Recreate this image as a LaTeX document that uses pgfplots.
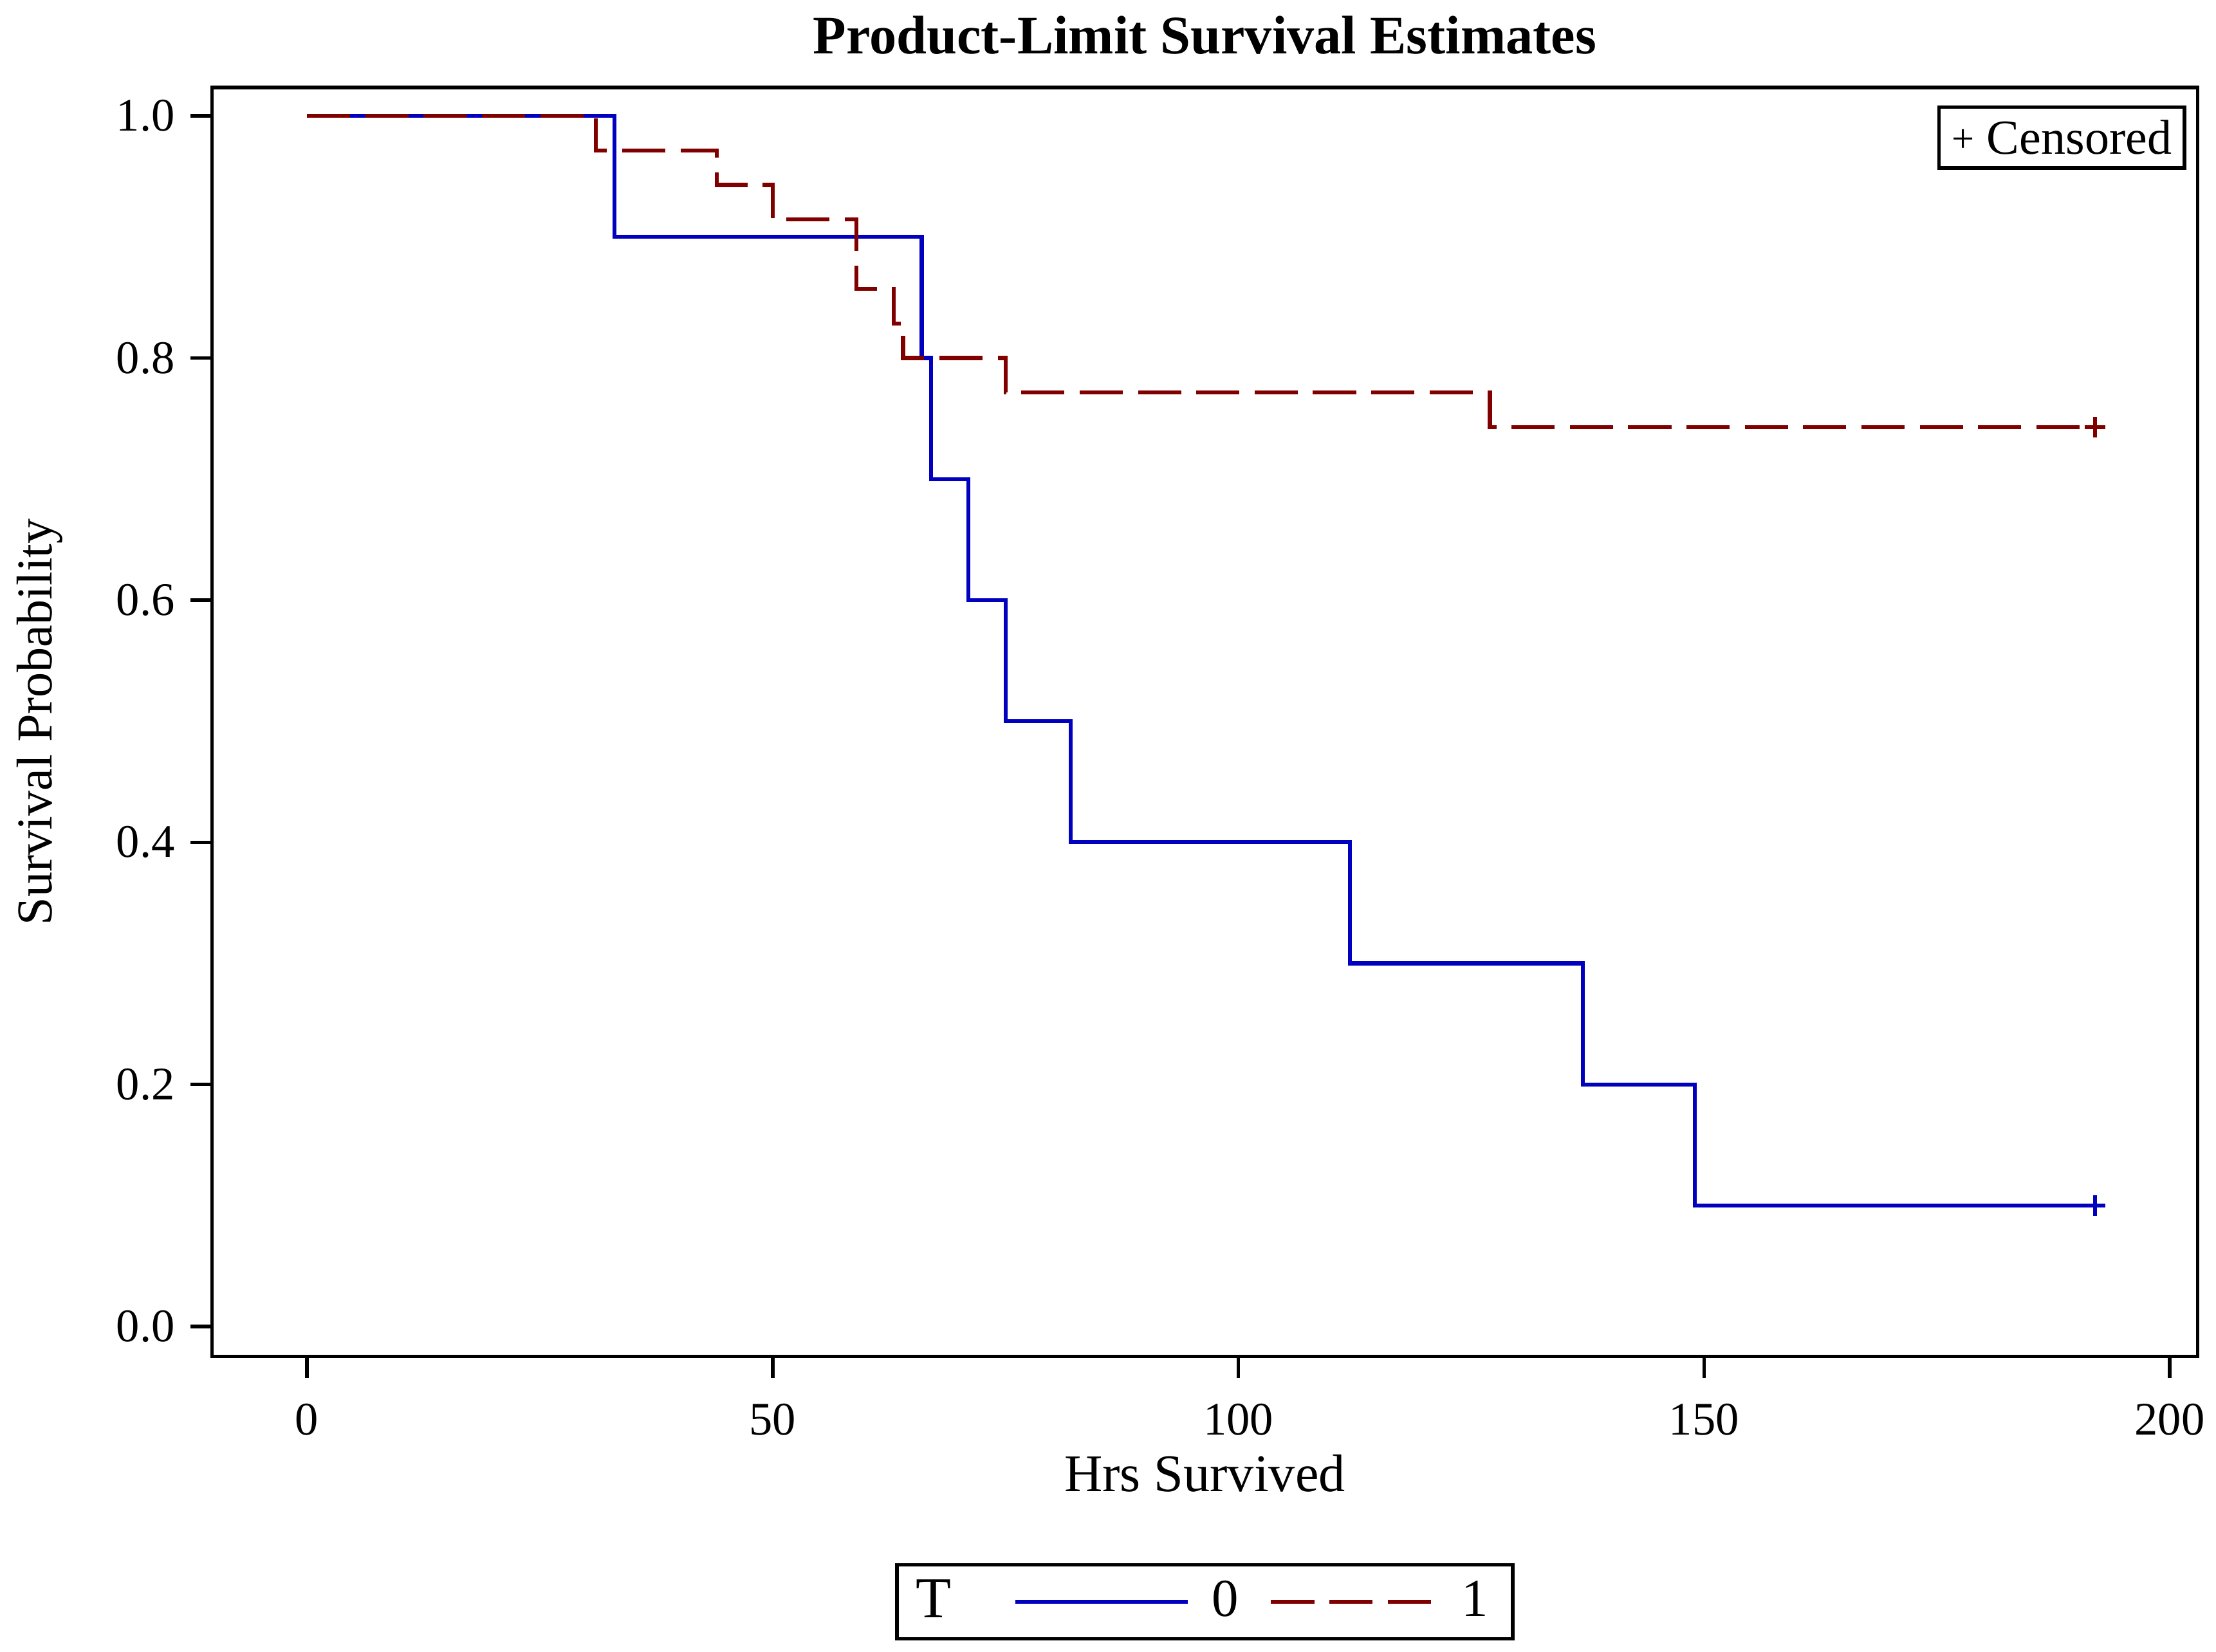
\documentclass[border=0pt]{standalone}
\usepackage{fontspec}
\setmainfont{Liberation Serif}
\usepackage{pgfplots}
\pgfplotsset{compat=1.18}
\definecolor{sasblue}{RGB}{0,0,190}
\definecolor{sasred}{RGB}{128,0,0}

\begin{document}
\begin{tikzpicture}
\begin{axis}[
  name=ax,
  scale only axis,
  width=15.68cm, height=10.02cm,
  xmin=-10.2, xmax=203,
  ymin=-0.0245, ymax=1.0233,
  xtick={0,50,100,150,200},
  ytick={0,0.2,0.4,0.6,0.8,1.0},
  yticklabel style={/pgf/number format/fixed, /pgf/number format/fixed zerofill,
    /pgf/number format/precision=1},
  /pgf/number format/assume math mode=true,
  tick align=outside,
  tick pos=left,
  major tick length=0.17cm,
  every tick/.style={black, line width=0.8pt},
  axis line style={line width=0.8pt},
  tick label style={font=\fontsize{10.5}{12}\selectfont},
  xticklabel style={yshift=-0.08cm},
  xlabel={Hrs Survived},
  ylabel={Survival Probability},
  xlabel style={font=\fontsize{11.9}{14}\selectfont,
    at={(axis description cs:0.5,0)}, anchor=base, yshift=-1.066cm},
  ylabel style={font=\fontsize{11.3}{14}\selectfont,
    at={(axis description cs:-0.0868,0.5)}, anchor=center},
  title={Product-Limit Survival Estimates},
  every axis title/.style={font=\bfseries\fontsize{12.2}{14}\selectfont,
    at={(axis description cs:0.5,1)}, anchor=base, yshift=0.27cm},
  legend columns=-1,
  legend style={at={(0.5,-0.163)}, anchor=north, draw=black, line width=0.8pt,
    font=\fontsize{12}{14}\selectfont,
    inner xsep=0.15cm, inner ysep=3.3pt,
    nodes={inner sep=0pt},
    column sep=0pt,
    /tikz/every even column/.append style={column sep=0pt}},
  legend image code/.code={\draw[#1] (0cm,0cm) -- (1.36cm,0cm);},
]
\addlegendimage{empty legend}
\addplot[const plot, sasblue, line width=0.9pt] coordinates {
  (0,1) (33,0.9) (66,0.8) (67,0.7) (71,0.6) (75,0.5) (82,0.4)
  (112,0.3) (137,0.2) (149,0.1) (192,0.1)};
\addplot[const plot, sasred, line width=0.9pt, dash pattern=on 9.7pt off 3.4pt] coordinates {
  (0,1) (31,0.9714) (44,0.9429) (50,0.9143) (59,0.8571) (63,0.8286)
  (64,0.8) (75,0.7714) (127,0.7429) (192,0.7429)};
\addplot[only marks, mark=+, mark size=2.3pt, sasblue, line width=0.9pt, forget plot]
  coordinates {(192,0.1)};
\addplot[only marks, mark=+, mark size=2.3pt, sasred, line width=0.9pt, forget plot]
  coordinates {(192,0.7429)};
\legend{{\fontsize{13}{14}\selectfont T}\rule{0.49cm}{0pt}, \rule{0.175cm}{0pt}0\rule{0.241cm}{0pt}, \rule{0.13cm}{0pt}1\rule{0.04cm}{0pt}}
\node[draw, line width=0.8pt, anchor=north east, xshift=-0.09cm, yshift=-0.14cm,
  inner xsep=0.1cm, inner ysep=0pt, minimum height=0.48cm, font=\fontsize{11}{13}\selectfont]
  at (rel axis cs:1,1) {\raisebox{0.5pt}{\fontsize{9}{9}\selectfont +}\hspace{0.1cm}Censored};
\end{axis}
\pgfresetboundingbox
\path[use as bounding box] ([shift={(-1.674cm,-2.333cm)}]ax.south west) rectangle ([shift={(0.145cm,0.692cm)}]ax.north east);
\end{tikzpicture}
\end{document}
